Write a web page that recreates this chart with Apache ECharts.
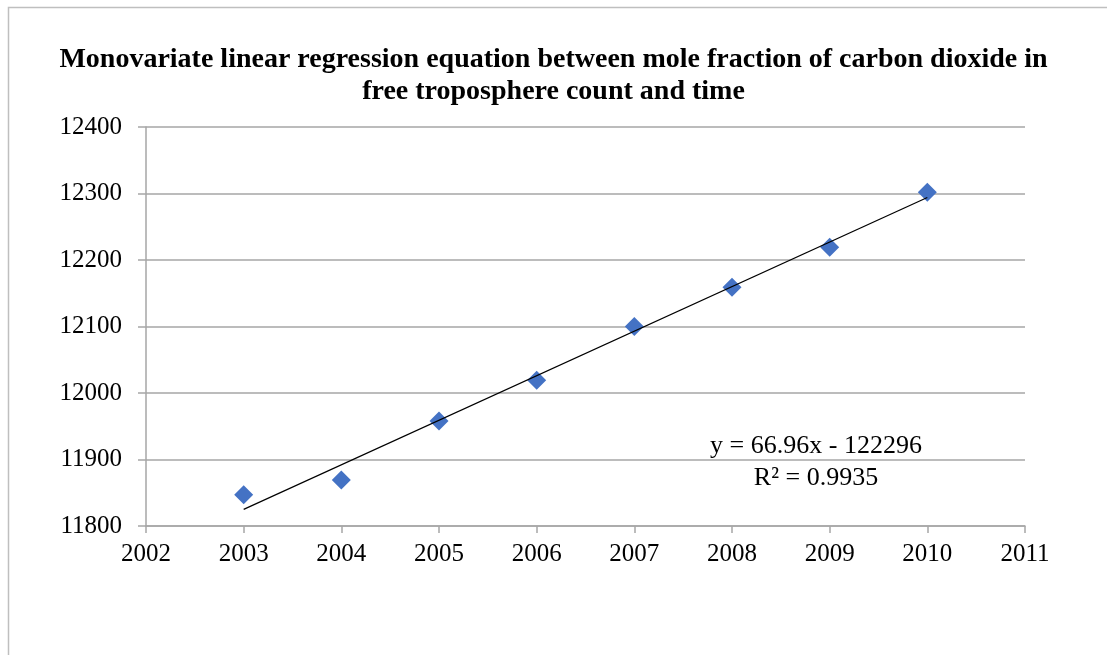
<!DOCTYPE html>
<html>
<head>
<meta charset="utf-8">
<script src="https://cdn.jsdelivr.net/npm/echarts@6/dist/echarts.min.js"></script>
<style>
  html, body { margin: 0; padding: 0; background: #fff; }
  #chart { width: 1107px; height: 655px; }
</style>
</head>
<body>
<div id="chart"></div>
<script>
var years = [2003, 2004, 2005, 2006, 2007, 2008, 2009, 2010];
var counts = [11847, 11869, 11958, 12019, 12100, 12159, 12219, 12302];
// trend line end points (linear fit shown on the chart)
var trendYears = [2003, 2010];
var trendCounts = [11825, 12294];
var equationText = ['y = 66.96x - 122296', 'R² = 0.9935'];

var serif = '"Liberation Serif", "Times New Roman", serif';

var chart = echarts.init(document.getElementById('chart'));

chart.setOption({
  animation: false,
  backgroundColor: '#fff',
  title: {
    text: 'Monovariate linear regression equation between mole fraction of carbon dioxide in\nfree troposphere count and time',
    left: 'center',
    top: 39,
    textStyle: {
      fontFamily: serif,
      fontWeight: 'bold',
      fontSize: 28,
      lineHeight: 32,
      color: '#000'
    }
  },
  grid: { left: 146, right: 82, top: 127, bottom: 129 },
  xAxis: {
    type: 'value',
    min: 2002,
    max: 2011,
    interval: 1,
    axisLine: { show: true, lineStyle: { color: '#a6a6a6', width: 1.5 } },
    axisTick: { show: true, length: 7, lineStyle: { color: '#a6a6a6', width: 1.5 } },
    splitLine: { show: false },
    axisLabel: {
      fontFamily: serif, fontSize: 25, color: '#000', margin: 16,
      formatter: function (v) { return String(v); }
    }
  },
  yAxis: {
    type: 'value',
    min: 11800,
    max: 12400,
    interval: 100,
    axisLine: { show: true, lineStyle: { color: '#a6a6a6', width: 1.5 } },
    axisTick: { show: true, length: 8, lineStyle: { color: '#a6a6a6', width: 1.5 } },
    splitLine: { show: true, lineStyle: { color: '#a6a6a6', width: 1.5 } },
    axisLabel: {
      fontFamily: serif, fontSize: 25, color: '#000', margin: 24,
      formatter: function (v) { return String(v); }
    }
  },
  series: [
    {
      type: 'line',
      data: trendYears.map(function (x, i) { return [x, trendCounts[i]]; }),
      symbol: 'none',
      lineStyle: { color: '#000', width: 1.2 },
      z: 3
    },
    {
      type: 'scatter',
      data: years.map(function (x, i) { return [x, counts[i]]; }),
      symbol: 'diamond',
      symbolSize: [19, 19],
      itemStyle: { color: '#4472C4', opacity: 1 },
      z: 2
    }
  ],
  graphic: [
    {
      type: 'polyline',
      shape: { points: [[8.5, 655], [8.5, 7.5], [1107, 7.5]] },
      style: { stroke: '#bfbfbf', lineWidth: 1.5, fill: null }
    },
    {
      type: 'text',
      x: 816,
      y: 446,
      style: {
        text: equationText[0],
        font: '26px ' + serif,
        fill: '#000',
        textAlign: 'center',
        textVerticalAlign: 'middle'
      }
    },
    {
      type: 'text',
      x: 816,
      y: 478,
      style: {
        text: equationText[1],
        font: '26px ' + serif,
        fill: '#000',
        textAlign: 'center',
        textVerticalAlign: 'middle'
      }
    }
  ]
});
</script>
</body>
</html>
